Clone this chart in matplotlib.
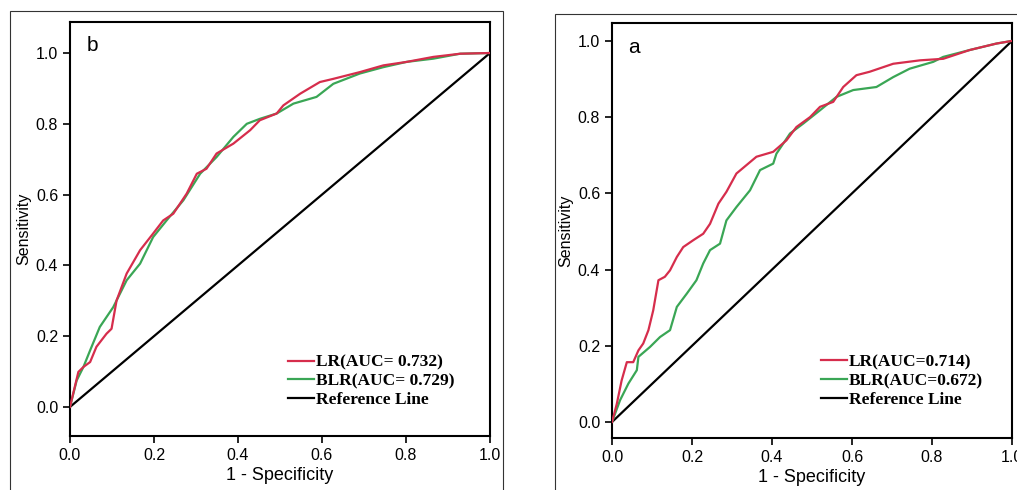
import matplotlib
matplotlib.use("Agg")
import matplotlib.pyplot as plt
from matplotlib.lines import Line2D
from matplotlib.patches import Rectangle

# panel b - ROC points
b_lr_fpr = [0, 0.02, 0.032, 0.048, 0.063, 0.087, 0.099, 0.111, 0.135, 0.167, 0.198, 0.222, 0.246,
            0.278, 0.302, 0.325, 0.349, 0.389, 0.429, 0.452, 0.492, 0.508, 0.548, 0.595, 0.627,
            0.690, 0.746, 0.802, 0.865, 0.929, 1.0]
b_lr_tpr = [0, 0.099, 0.113, 0.127, 0.17, 0.207, 0.221, 0.301, 0.377, 0.443, 0.49, 0.527, 0.546,
            0.603, 0.659, 0.673, 0.716, 0.744, 0.782, 0.81, 0.829, 0.852, 0.885, 0.918, 0.927,
            0.946, 0.965, 0.975, 0.989, 0.998, 1.0]
b_blr_fpr = [0, 0.016, 0.032, 0.048, 0.071, 0.103, 0.135, 0.167, 0.198, 0.23, 0.27, 0.31, 0.349,
             0.389, 0.421, 0.452, 0.492, 0.532, 0.587, 0.627, 0.69, 0.746, 0.802, 0.865, 0.929, 1.0]
b_blr_tpr = [0, 0.075, 0.113, 0.16, 0.226, 0.282, 0.358, 0.405, 0.48, 0.527, 0.584, 0.659, 0.706,
             0.763, 0.80, 0.814, 0.829, 0.857, 0.876, 0.913, 0.942, 0.96, 0.975, 0.984, 0.998, 1.0]

# panel a
a_lr_fpr = [0, 0.012, 0.024, 0.037, 0.053, 0.066, 0.078, 0.091, 0.103, 0.116, 0.132, 0.145, 0.162,
            0.178, 0.203, 0.228, 0.245, 0.266, 0.286, 0.311, 0.336, 0.361, 0.403, 0.436, 0.461,
            0.495, 0.52, 0.553, 0.578, 0.611, 0.644, 0.703, 0.77, 0.828, 0.894, 0.961, 1.0]
a_lr_tpr = [0, 0.048, 0.109, 0.157, 0.157, 0.188, 0.206, 0.241, 0.293, 0.372, 0.381, 0.398, 0.433,
            0.459, 0.477, 0.494, 0.52, 0.573, 0.604, 0.652, 0.674, 0.696, 0.709, 0.739, 0.774,
            0.80, 0.827, 0.84, 0.879, 0.91, 0.919, 0.94, 0.949, 0.953, 0.976, 0.993, 1.0]
a_blr_fpr = [0, 0.02, 0.041, 0.062, 0.066, 0.095, 0.12, 0.145, 0.162, 0.187, 0.211, 0.228, 0.245,
             0.27, 0.286, 0.311, 0.345, 0.37, 0.403, 0.411, 0.445, 0.478, 0.52, 0.561, 0.603,
             0.661, 0.703, 0.744, 0.803, 0.828, 0.894, 0.961, 1.0]
a_blr_tpr = [0, 0.057, 0.101, 0.136, 0.171, 0.197, 0.223, 0.241, 0.302, 0.337, 0.372, 0.416, 0.451,
             0.468, 0.529, 0.564, 0.608, 0.661, 0.678, 0.704, 0.757, 0.783, 0.818, 0.853, 0.871,
             0.879, 0.905, 0.927, 0.945, 0.958, 0.976, 0.993, 1.0]

ticks = [0.0, 0.2, 0.4, 0.6, 0.8, 1.0]
tick_labels = ["0.0", "0.2", "0.4", "0.6", "0.8", "1.0"]

RED = "#d62d4c"
GREEN = "#3aa655"

plt.rcParams['font.family'] = ['Liberation Sans', 'DejaVu Sans']

fig = plt.figure(figsize=(10.17, 4.9), dpi=100)

# outer chart frames (SPSS style)
fig.patches.append(Rectangle((0.0098, -0.05), 0.4848, 1.0276, transform=fig.transFigure,
                             fill=False, edgecolor="#333333", linewidth=0.8))
fig.patches.append(Rectangle((0.5457, -0.05), 0.5, 1.0214, transform=fig.transFigure,
                             fill=False, edgecolor="#333333", linewidth=0.8))


def roc_panel(rect, ylim, lr_x, lr_y, blr_x, blr_y, labels, letter, leg_anchor):
    ax = fig.add_axes(rect)
    ax.plot(lr_x, lr_y, color=RED, lw=1.6, zorder=3)
    ax.plot(blr_x, blr_y, color=GREEN, lw=1.6, zorder=2)
    ax.plot([0, 1], [0, 1], color="black", lw=1.6, zorder=1)
    ax.set_xlim(0, 1)
    ax.set_ylim(*ylim)
    ax.set_xticks(ticks)
    ax.set_xticklabels(tick_labels)
    ax.set_yticks(ticks)
    ax.set_yticklabels(tick_labels)
    ax.tick_params(labelsize=11.5, length=5, width=1.2, direction="out")
    for s in ax.spines.values():
        s.set_linewidth(1.5)
    ax.set_xlabel("1 - Specificity", fontsize=13, labelpad=3)
    ax.set_ylabel("Sensitivity", fontsize=11.5, labelpad=3)
    ax.text(0.04, 0.965, letter, transform=ax.transAxes, fontsize=15, va="top", ha="left")
    handles = [Line2D([], [], color=RED, lw=1.6), Line2D([], [], color=GREEN, lw=1.6),
               Line2D([], [], color="black", lw=1.6)]
    ax.legend(handles, labels, loc="upper left", bbox_to_anchor=leg_anchor, frameon=False,
              prop={"family": "Liberation Serif", "weight": "bold", "size": 12.5},
              handlelength=1.5, handletextpad=0.1, labelspacing=0.16,
              borderpad=0, borderaxespad=0)
    return ax


roc_panel([0.0688, 0.1102, 0.413, 0.8449], (-0.082, 1.0876),
          b_lr_fpr, b_lr_tpr, b_blr_fpr, b_blr_tpr,
          ["LR(AUC= 0.732)", "BLR(AUC= 0.729)", "Reference Line"], "b", (0.519, 0.197))
roc_panel([0.6018, 0.1061, 0.3933, 0.847], (-0.042, 1.047),
          a_lr_fpr, a_lr_tpr, a_blr_fpr, a_blr_tpr,
          ["LR(AUC=0.714)", "BLR(AUC=0.672)", "Reference Line"], "a", (0.5225, 0.202))

fig.savefig("out.png", dpi=100)
